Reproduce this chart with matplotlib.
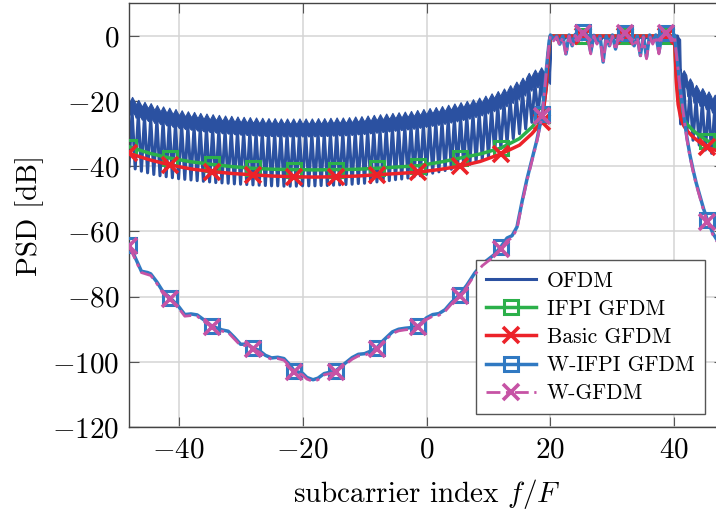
import matplotlib
matplotlib.use("Agg")
import matplotlib.pyplot as plt
import numpy as np

plt.rcParams['font.family'] = 'serif'
plt.rcParams['font.serif'] = ['cmr10']
plt.rcParams['mathtext.fontset'] = 'cm'
plt.rcParams['axes.formatter.use_mathtext'] = True

# ---- OFDM: per-subcarrier sidelobe peak (at k+0.5) and null (at k), k = -48..47
ofdm_k = list(range(-48, 48))
ofdm_peak = [-18.7, -19.6, -20.2, -20.6, -21.2, -21.6, -22.0, -22.4, -22.8, -23.1,   # -48..-39
             -23.3, -23.6, -23.8, -24.0, -24.2, -24.4, -24.5, -24.7, -24.8, -24.9,   # -38..-29
             -25.0, -25.1, -25.2, -25.2, -25.3, -25.3, -25.3, -25.3, -25.3, -25.3,   # -28..-19
             -25.2, -25.2, -25.1, -25.0, -25.0, -24.9, -24.7, -24.6, -24.4, -24.2,   # -18..-9
             -24.0, -23.8, -23.6, -23.4, -23.2, -23.0, -22.7, -22.4, -22.1, -21.8,   # -8..1
             -21.5, -21.1, -20.7, -20.3, -19.9, -19.4, -18.9, -18.3, -17.6, -16.9,   # 2..11
             -16.1, -15.1, -14.0, -12.8, -11.3, -10.3, -9.6, -9.2,                   # 12..19
             0.3, 0.3, 0.3, 0.3, 0.3, 0.3, 0.3, 0.3, 0.3, 0.3,                       # 20..29
             0.3, 0.3, 0.3, 0.3, 0.3, 0.3, 0.3, 0.3, 0.3, 0.3,                       # 30..39
             -8.5, -10.5, -13.0, -15.0, -16.0, -17.0, -18.0, -18.5]                  # 40..47
ofdm_null = [-40.0, -40.8, -41.5, -42.0, -42.5, -42.9, -43.2, -43.5, -43.8, -44.0,
             -44.2, -44.4, -44.6, -44.8, -45.0, -45.1, -45.2, -45.4, -45.5, -45.6,
             -45.7, -45.8, -45.9, -46.0, -46.0, -46.1, -46.1, -46.1, -46.0, -46.0,
             -46.0, -45.9, -45.9, -45.8, -45.7, -45.6, -45.5, -45.3, -45.2, -45.0,
             -44.8, -44.6, -44.4, -44.1, -43.9, -43.6, -43.2, -42.9, -42.5, -42.1,
             -41.7, -41.3, -40.9, -40.4, -39.9, -39.4, -38.8, -38.1, -37.2, -36.0,
             -34.5, -33.0, -31.5, -30.0, -28.5, -26.5, -24.0, -21.0,
             0.0, -0.3, -0.3, -0.3, -0.3, -0.3, -0.3, -0.3, -0.3, -0.3,
             -0.3, -0.3, -0.3, -0.3, -0.3, -0.3, -0.3, -0.3, -0.3, -0.3,
             0.0, -27.0, -30.0, -32.0, -33.5, -35.0, -36.0, -37.0]
BAND_DEPTH = 4.5   # dB of solid trace below each sidelobe top (dense ripple)

# ---- IFPI GFDM / Basic GFDM (smooth envelopes)
gfdm_x = [-48, -44.67, -41.33, -38, -34.67, -31.33, -28, -24.67, -21.33, -18,
          -14.67, -11.33, -8, -4.67, -1.33, 2, 5.33, 8.67, 12, 15, 17, 18.67,
          19.3, 19.7, 20, 25.33, 32, 38.67, 40, 40.3, 40.6, 41, 41.5, 42, 43,
          44, 45.33, 48]
ifpi_db = [-34.0, -36.0, -37.5, -38.6, -39.4, -40.1, -40.6, -40.9, -41.0, -41.1,
           -41.0, -40.9, -40.6, -40.2, -39.8, -38.8, -37.5, -36.2, -34.4, -31.5,
           -28.0, -24.3, -15.0, -5.0, 0.0, 0.0, 0.0, 0.0, 0.0, -12.0, -19.0,
           -23.0, -25.5, -27.0, -29.0, -30.5, -32.2, -34.0]
basic_db = [-36.0, -38.0, -39.6, -40.8, -41.6, -42.2, -42.6, -43.0, -43.2, -43.3,
            -43.2, -43.0, -42.6, -42.2, -41.8, -41.0, -40.0, -38.5, -36.2, -33.5,
            -30.0, -26.3, -16.0, -5.0, 0.0, 0.0, 0.0, 0.0, 0.0, -14.0, -21.0,
            -25.0, -27.5, -29.0, -31.0, -32.5, -34.2, -36.0]
gfdm_marks = [0, 2, 4, 6, 8, 10, 12, 14, 16, 18, 21, 25, 26, 27, 36]

# ---- W-IFPI GFDM / W-GFDM
w_x = [-48, -47, -46, -45, -44.5, -43.5, -42.5, -41.33, -40, -39, -38, -37, -36,
       -34.67, -33, -32, -31, -30, -29, -28, -27, -26, -25, -24, -23, -22, -21.33,
       -20, -19.3, -18.3, -17.5, -16.5, -14.67, -13.5, -12, -11, -10, -9, -8, -7,
       -5.5, -4.5, -3.5, -2.5, -1.33, 0, 1, 2, 3, 4, 5.33, 6.5, 7.8, 9, 10, 11, 12,
       13, 13.8, 14.6, 15.4, 16.2, 17, 17.8, 18.67, 19.2, 19.5, 19.8,
       20, 20.5, 21, 21.5, 22, 22.5, 23, 23.5, 24, 24.5, 25.33, 26, 26.5, 27, 27.5,
       28, 28.5, 29, 29.5, 30, 30.5, 31, 31.5, 32, 32.5, 33, 33.5, 34, 34.5, 35,
       35.5, 36, 36.5, 37, 37.5, 38, 38.67, 39, 39.5, 40,
       40.5, 40.9, 41.5, 42, 42.5, 43, 43.5, 44.1, 44.7, 45.33, 46.2, 47, 48]
wifpi_db = [-64.0, -68.0, -72.2, -72.6, -73.0, -75.5, -78.5, -80.4, -83.0, -85.5,
            -85.3, -85.6, -87.0, -89.0, -90.2, -90.6, -92.5, -94.6, -94.6, -95.7,
            -96.5, -98.0, -98.8, -98.6, -99.0, -101.0, -102.8, -103.5, -104.8,
            -105.5, -105.0, -103.6, -102.8, -101.0, -98.7, -97.7, -97.5, -96.7,
            -95.7, -93.5, -90.8, -90.0, -89.7, -89.5, -89.0, -86.5, -85.5, -85.2,
            -84.0, -81.8, -79.4, -76.5, -72.7, -70.0, -68.5, -67.0, -64.7, -62.0,
            -61.3, -58.6, -51.0, -44.0, -38.0, -32.0, -24.0, -13.0, -7.0, -1.5,
            0.3, -1.0, 0.0, -2.5, 0.0, -5.5, 0.3, -3.0, 0.5, -1.0, 1.3, 0.0, -5.0,
            0.2, -2.0, 0.0, -8.0, 0.0, -3.0, 0.3, -4.0, 0.5, -1.0, 1.0, 0.0, -1.0,
            -3.0, 0.0, -6.0, 0.0, -6.5, 0.3, -2.0, 0.3, -5.0, 0.5, 1.0, 0.5, -1.0,
            0.3, -8.0, -15.6, -24.0, -31.0, -36.5, -41.0, -45.0, -49.0, -53.0,
            -56.6, -60.5, -63.0, -66.0]
wgfdm_db = [-64.5, -68.5, -72.6, -73.2, -73.5, -76.0, -79.0, -80.8, -83.5, -86.0,
            -85.8, -86.0, -87.5, -89.3, -90.6, -91.0, -93.0, -95.0, -95.0, -96.0,
            -97.0, -98.4, -99.2, -99.0, -99.5, -101.5, -103.2, -104.0, -105.3,
            -106.0, -105.5, -104.0, -103.2, -101.5, -99.2, -98.2, -98.0, -97.2,
            -96.1, -94.0, -91.3, -90.5, -90.2, -90.0, -89.4, -87.0, -86.0, -85.7,
            -84.5, -82.3, -79.8, -77.0, -73.2, -70.5, -69.0, -67.5, -65.3, -62.8,
            -62.0, -59.2, -51.5, -44.5, -38.5, -32.5, -24.5, -13.5, -7.5, -2.0,
            0.0, -1.5, -0.3, -3.0, -0.3, -6.0, 0.0, -3.5, 0.2, -1.5, 1.0, -0.3,
            -5.5, 0.0, -2.5, -0.3, -8.5, -0.3, -3.5, 0.0, -4.5, 0.2, -1.5, 0.8,
            -0.3, -1.5, -3.5, -0.3, -6.5, -0.3, -7.0, 0.0, -2.5, 0.0, -5.5, 0.2,
            0.8, 0.2, -1.5, 0.0, -8.5, -16.0, -24.5, -31.5, -37.0, -41.5, -45.5,
            -49.5, -53.5, -57.0, -61.0, -63.5, -66.5]
w_marks = [0, 7, 13, 19, 26, 32, 38, 44, 50, 56, 64, 78, 91, 104, 117]

c_ofdm = '#2b51a1'
c_ifpi = '#2bb04a'
c_basic = '#ec2229'
c_wifpi = '#3079c2'
c_wgfdm = '#c653a5'

# OFDM trace: V-shaped nulls at integers, dense ripple band below each lobe top
ox, oy, bx, btop, bbot = [], [], [], [], []
for k, pk, nl in zip(ofdm_k, ofdm_peak, ofdm_null):
    band = max(pk - BAND_DEPTH, nl)
    ox += [k, k + 0.5]
    oy += [nl, band]
    bx += [k + 0.08, k + 0.5, k + 0.92]
    btop += [pk - 1.5, pk, pk - 1.5]
    bbot += [band - 1.0, band, band - 1.0]

fig = plt.figure(figsize=(7.16, 5.15), dpi=100)
ax = fig.add_axes([129 / 716, 1 - 427 / 515, 595 / 716, 423.6 / 515])

ax.fill_between(bx, bbot, btop, color=c_ofdm, lw=0.8, edgecolor=c_ofdm, zorder=2)
ax.plot(ox, oy, color=c_ofdm, lw=2.2, label='OFDM', zorder=2)
ax.plot(gfdm_x, ifpi_db, color=c_ifpi, lw=2.5, marker='s', markersize=10,
        markerfacecolor='none', markeredgewidth=2.2, markevery=gfdm_marks,
        label='IFPI GFDM', zorder=3)
ax.plot(gfdm_x, basic_db, color=c_basic, lw=2.5, marker='x', markersize=11,
        markeredgewidth=2.6, markevery=gfdm_marks, label='Basic GFDM', zorder=4)
ax.plot(w_x, wifpi_db, color=c_wifpi, lw=2.5, marker='s', markersize=10.5,
        markerfacecolor='none', markeredgewidth=2.2, markevery=w_marks,
        label='W-IFPI GFDM', zorder=5)
ax.plot(w_x, wgfdm_db, color=c_wgfdm, lw=2.0, linestyle=(0, (5, 2, 1.2, 2)),
        marker='x', markersize=11, markeredgewidth=2.6, markevery=w_marks,
        label='W-GFDM', zorder=6)

ax.set_xlim(-48, 48)
ax.set_ylim(-120, 10)
ax.set_xticks([-40, -20, 0, 20, 40])
ax.set_yticks([-120, -100, -80, -60, -40, -20, 0])
ax.grid(True, color='#d4d4d4', lw=1.1)
ax.set_axisbelow(True)
ax.tick_params(direction='in', top=True, right=True, length=7, width=0.8,
               colors='#555555', labelcolor='black', labelsize=21, pad=7)
for s in ax.spines.values():
    s.set_color('#444444')
    s.set_linewidth(1.0)

ax.set_xlabel('subcarrier index $f/F$', fontsize=21, labelpad=10)
ax.set_ylabel('PSD [dB]', fontsize=21, labelpad=6)

leg = ax.legend(loc='lower right', bbox_to_anchor=(576 / 595, 13 / 423.6),
                borderaxespad=0, fontsize=15.5, numpoints=1, handlelength=2.3,
                handletextpad=0.5, borderpad=0.5, fancybox=False, framealpha=1,
                edgecolor='#555555', labelspacing=0.4)
leg.get_frame().set_linewidth(1.0)

fig.savefig('out.png', dpi=100)
